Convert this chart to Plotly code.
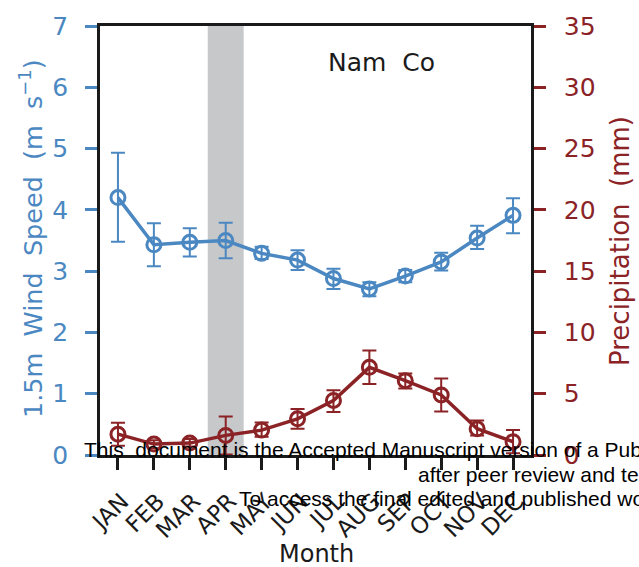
import plotly.graph_objects as go

months = ["JAN", "FEB", "MAR", "APR", "MAY", "JUN", "JUL", "AUG", "SEP", "OCT", "NOV", "DEC"]
month_idx = [1, 2, 3, 4, 5, 6, 7, 8, 9, 10, 11, 12]

wind = [4.20, 3.43, 3.47, 3.50, 3.29, 3.18, 2.88, 2.71, 2.92, 3.15, 3.54, 3.91]
wind_hi = [4.93, 3.78, 3.70, 3.79, 3.40, 3.34, 3.04, 2.82, 3.02, 3.30, 3.74, 4.19]
wind_lo = [3.48, 3.08, 3.24, 3.21, 3.20, 3.02, 2.71, 2.59, 2.82, 3.01, 3.36, 3.62]

precip = [1.70, 0.89, 0.97, 1.60, 2.03, 2.95, 4.45, 7.15, 6.06, 4.90, 2.14, 1.08]
precip_hi = [2.63, 1.20, 1.30, 3.14, 2.65, 3.75, 5.28, 8.52, 6.65, 6.25, 2.82, 2.03]
precip_lo = [0.76, 0.55, 0.70, 0.05, 1.49, 2.15, 3.50, 5.80, 5.43, 3.54, 1.60, 0.14]

shade_range = [3.5, 4.5]

BLUE = "#4b88c2"
RED = "#8b2326"
FONT = "DejaVu Sans"

W, H = 639, 567
L, R, T, B = 100, 531, 24, 455


def px(x):
    return (x - L) / (R - L)


def py(y):
    return (B - y) / (B - T)


fig = go.Figure()

fig.add_trace(go.Scatter(
    x=month_idx, y=wind, mode="lines+markers", yaxis="y",
    line=dict(color=BLUE, width=3.5),
    marker=dict(symbol="circle-open", size=14, color=BLUE, line=dict(width=3, color=BLUE)),
    error_y=dict(type="data", symmetric=False,
                 array=[h - v for h, v in zip(wind_hi, wind)],
                 arrayminus=[v - l for v, l in zip(wind, wind_lo)],
                 color=BLUE, thickness=2, width=7),
    showlegend=False,
))

fig.add_trace(go.Scatter(
    x=month_idx, y=precip, mode="lines+markers", yaxis="y2",
    line=dict(color=RED, width=3.5),
    marker=dict(symbol="circle-open", size=14, color=RED, line=dict(width=3, color=RED)),
    error_y=dict(type="data", symmetric=False,
                 array=[h - v for h, v in zip(precip_hi, precip)],
                 arrayminus=[v - l for v, l in zip(precip, precip_lo)],
                 color=RED, thickness=2, width=7),
    showlegend=False,
))

fig.add_shape(type="rect", xref="x", yref="paper", x0=shade_range[0], x1=shade_range[1],
              y0=0, y1=1, fillcolor="#c7c8ca", line=dict(width=0), layer="below")

WM = dict(family="Liberation Sans", size=21, color="black")

annotations = [
    dict(text="Nam  Co", x=px(381), y=py(61), xref="paper", yref="paper", showarrow=False,
         font=dict(family=FONT, size=25, color="#1a1a1a"), xanchor="center", yanchor="middle"),
    dict(text="1.5m  Wind  Speed  (m  s<sup>−1</sup>)", x=px(31), y=py(238), xref="paper", yref="paper",
         showarrow=False, textangle=-90,
         font=dict(family=FONT, size=25.5, color=BLUE), xanchor="center", yanchor="middle"),
    dict(text="Precipitation  (mm)", x=px(620), y=py(240), xref="paper", yref="paper",
         showarrow=False, textangle=-90,
         font=dict(family=FONT, size=26, color=RED), xanchor="center", yanchor="middle"),
    dict(text="Month", x=px(316), y=py(554), xref="paper", yref="paper", showarrow=False,
         font=dict(family=FONT, size=24, color="#1a1a1a"), xanchor="center", yanchor="middle"),
    dict(text="This  document is the Accepted Manuscript version of a Pub", x=px(82), y=py(449),
         xref="paper", yref="paper", showarrow=False, font=WM, xanchor="left", yanchor="middle"),
    dict(text="after peer review and te", x=px(416), y=py(475),
         xref="paper", yref="paper", showarrow=False, font=WM, xanchor="left", yanchor="middle"),
    dict(text="To access the final edited and published wo", x=px(237), y=py(499),
         xref="paper", yref="paper", showarrow=False, font=WM, xanchor="left", yanchor="middle"),
]

fig.update_layout(
    width=W, height=H,
    margin=dict(l=L, r=W - R, t=T, b=H - B, pad=0),
    paper_bgcolor="white", plot_bgcolor="white",
    font=dict(family=FONT),
    xaxis=dict(range=[0.5, 12.5], tickvals=month_idx, ticktext=months, tickangle=-45,
               ticks="outside", ticklen=12, tickwidth=2.5, tickcolor="#1a1a1a",
               showline=True, linecolor="#1a1a1a", linewidth=2.5, mirror=True,
               showgrid=False, zeroline=False, ticklabelstandoff=9, ticklabelshift=4,
               tickfont=dict(family=FONT, size=23, color="#1a1a1a")),
    yaxis=dict(range=[0, 7], dtick=1, ticks="outside", ticklen=12, tickwidth=2.5, tickcolor=BLUE,
               showline=True, linecolor="#1a1a1a", linewidth=2.5, showgrid=False, zeroline=False,
               ticklabelstandoff=12,
               tickfont=dict(family=FONT, size=25, color=BLUE)),
    yaxis2=dict(range=[0, 35], dtick=5, overlaying="y", side="right", ticks="outside", ticklen=12,
                tickwidth=2.5, tickcolor=RED, showline=True, linecolor="#1a1a1a", linewidth=2.5,
                showgrid=False, zeroline=False, ticklabelstandoff=13,
                tickfont=dict(family=FONT, size=25, color=RED)),
    annotations=annotations,
)

fig.write_html("out.html")
